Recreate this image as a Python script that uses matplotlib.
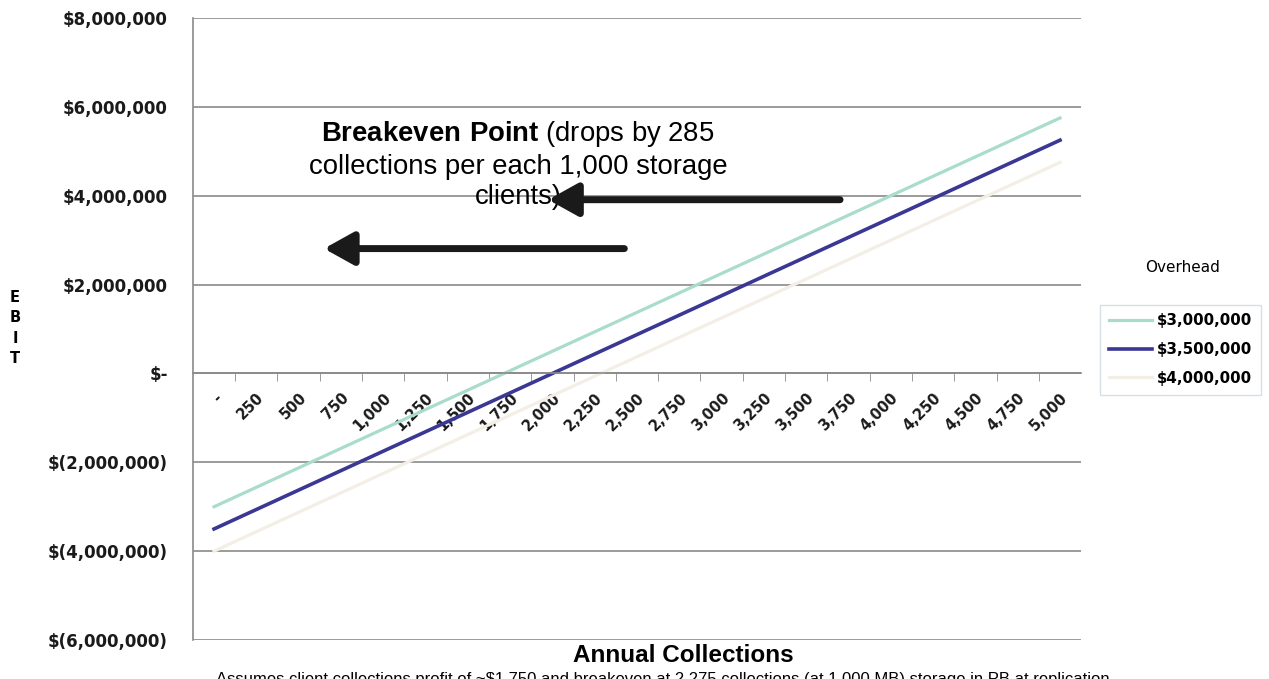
import matplotlib.pyplot as plt
import numpy as np

# --- data (EBIT in dollars) ---
collections = ['-', '250', '500', '750', '1,000', '1,250', '1,500', '1,750', '2,000',
               '2,250', '2,500', '2,750', '3,000', '3,250', '3,500', '3,750', '4,000',
               '4,250', '4,500', '4,750', '5,000']
overhead_labels = ['$3,000,000', '$3,500,000', '$4,000,000']
ebit_3000k = [-3000000, -2562500, -2125000, -1687500, -1250000, -812500, -375000, 62500,
              500000, 937500, 1375000, 1812500, 2250000, 2687500, 3125000, 3562500,
              4000000, 4437500, 4875000, 5312500, 5750000]
ebit_3500k = [-3500000, -3062500, -2625000, -2187500, -1750000, -1312500, -875000, -437500,
              0, 437500, 875000, 1312500, 1750000, 2187500, 2625000, 3062500,
              3500000, 3937500, 4375000, 4812500, 5250000]
ebit_4000k = [-4000000, -3562500, -3125000, -2687500, -2250000, -1812500, -1375000, -937500,
              -500000, -62500, 375000, 812500, 1250000, 1687500, 2125000, 2562500,
              3000000, 3437500, 3875000, 4312500, 4750000]
y_ticks = [-6000000, -4000000, -2000000, 0, 2000000, 4000000, 6000000, 8000000]
y_tick_labels = ['$(6,000,000)', '$(4,000,000)', '$(2,000,000)', '$-', '$2,000,000',
                 '$4,000,000', '$6,000,000', '$8,000,000']

colors = {'teal': '#a9dccd', 'navy': '#3b3794', 'faint': '#f4efe6', 'grid': '#8a8a8a'}

plt.rcParams['font.family'] = ['DejaVu Sans']
plt.rcParams['mathtext.fontset'] = 'custom'
plt.rcParams['mathtext.bf'] = 'Liberation Sans:bold'
plt.rcParams['mathtext.rm'] = 'Liberation Sans'

fig = plt.figure(figsize=(12.69, 6.79), dpi=100, facecolor='white')
ax = fig.add_axes([0.152, 0.0574, 0.700, 0.9161])

x = np.arange(len(collections))
l1, = ax.plot(x, ebit_3000k, color=colors['teal'], lw=2.3)
l2, = ax.plot(x, ebit_3500k, color=colors['navy'], lw=2.6)
l3, = ax.plot(x, ebit_4000k, color=colors['faint'], lw=2.3)

ax.set_xlim(-0.5, len(collections) - 0.5)
ax.set_ylim(-6000000, 8000000)
ax.set_yticks(y_ticks)
ax.set_yticklabels(y_tick_labels, fontsize=12, fontweight='bold', color='#1a1a1a')
ax.tick_params(axis='y', length=0, pad=18)
ax.yaxis.grid(True, color=colors['grid'], lw=1.2)
ax.set_axisbelow(True)

# category axis crosses at zero
for s in ['top', 'right']:
    ax.spines[s].set_visible(False)
ax.spines['left'].set_color(colors['grid'])
ax.spines['left'].set_linewidth(1.2)
ax.spines['bottom'].set_position(('data', 0))
ax.spines['bottom'].set_color(colors['grid'])
ax.spines['bottom'].set_linewidth(1.2)
ax.set_xticks(x)
ax.set_xticklabels(collections, rotation=45, ha='right', va='top',
                   rotation_mode='anchor', fontsize=10.5, fontweight='bold', color='#1a1a1a')
ax.tick_params(axis='x', which='major', length=0, pad=12)
ax.set_xticks(x[:-1] + 0.5, minor=True)
ax.tick_params(axis='x', which='minor', length=6, color=colors['grid'], direction='out')

# legend
fig.text(1183 / 1269, 1 - 268 / 679, 'Overhead', fontsize=11, ha='center', va='center')
leg = fig.legend([l1, l2, l3], overhead_labels, loc='upper left',
                 bbox_to_anchor=(1092 / 1269, 1 - 297 / 679),
                 prop={'size': 10.8, 'weight': 'bold'},
                 frameon=True, fancybox=False, edgecolor='#cfd8dc',
                 handlelength=2.9, handletextpad=0.3, borderpad=0.6, labelspacing=0.9)
leg.get_frame().set_linewidth(1.0)

# annotation + arrows
ax.text(7.19, 4700000,
        '$\\bf{Breakeven\\ Point}$ (drops by 285\ncollections per each 1,000 storage\nclients)',
        ha='center', va='center', multialignment='center', fontsize=19.8,
        family='Liberation Sans', linespacing=1.22)
arrow_kw = dict(arrowstyle='-|>,head_length=0.9,head_width=0.5', lw=5,
                color='#1a1a1a', mutation_scale=20, shrinkA=0, shrinkB=0)
ax.annotate('', xy=(7.9, 3910000), xytext=(14.8, 3910000), arrowprops=arrow_kw)
ax.annotate('', xy=(2.6, 2810000), xytext=(9.7, 2810000), arrowprops=arrow_kw)

# axis titles
fig.text(15 / 1269, 1 - 328 / 679, 'E\nB\nI\nT', ha='center', va='center',
         fontsize=10.5, fontweight='bold', linespacing=1.45)
fig.text(683 / 1269, 1 - 655 / 679, 'Annual Collections', ha='center', va='center',
         fontsize=17.5, fontweight='bold', family='Liberation Sans')
fig.text(663 / 1269, 1 - 687 / 679,
         'Assumes client collections profit of ~$1,750 and breakeven at 2,275 collections (at 1,000 MB) storage in PB at replication',
         ha='center', va='bottom', fontsize=12, family='Liberation Sans')

plt.savefig('out.png', dpi=100, facecolor='white')
